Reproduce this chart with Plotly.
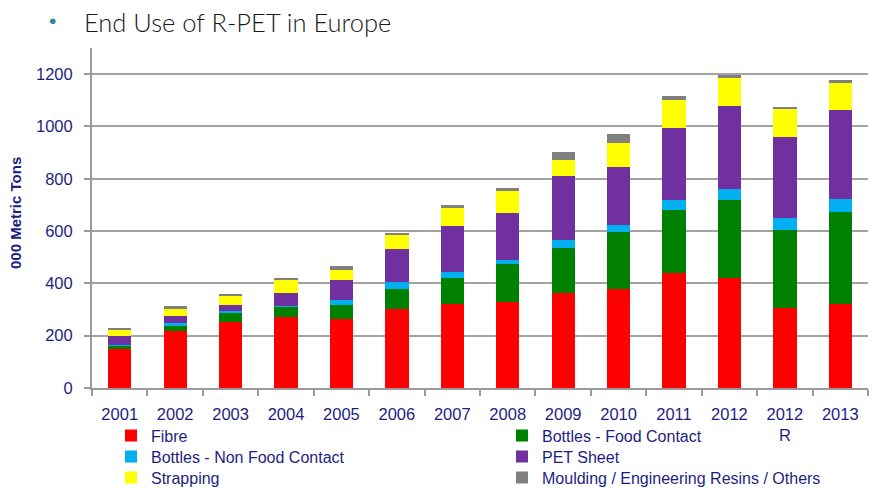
import plotly.graph_objects as go

categories = ["2001", "2002", "2003", "2004", "2005", "2006", "2007", "2008",
              "2009", "2010", "2011", "2012", "2012<br>R", "2013"]
fibre = [148, 219, 254, 271, 264, 302, 322, 328, 365, 377, 438, 421, 307, 323]
bottles_food = [13, 21, 35, 40, 55, 78, 99, 148, 169, 219, 243, 297, 297, 351]
bottles_nonfood = [5, 7, 7, 2, 19, 25, 23, 14, 30, 26, 38, 44, 46, 49]
pet_sheet = [33, 30, 23, 51, 75, 127, 174, 178, 247, 222, 276, 315, 310, 340]
strapping = [25, 25, 32, 49, 38, 54, 70, 87, 62, 93, 106, 107, 110, 106]
others = [7, 10, 8, 6, 14, 8, 13, 10, 28, 34, 16, 13, 4, 7]

series_names = ["Fibre", "Bottles - Food Contact", "Bottles - Non Food Contact",
                "PET Sheet", "Strapping", "Moulding / Engineering Resins / Others"]
series_values = [fibre, bottles_food, bottles_nonfood, pet_sheet, strapping, others]
series_colors = ["#FF0000", "#008000", "#00B0F0", "#7030A0", "#FFFF00", "#808080"]

W, H = 878, 488
L, R, T, B = 92, 10, 48, 100
PW, PH = W - L - R, H - T - B
navy = "#1E1E82"


def px_x(p):
    return (p - L) / PW


def px_y(p):
    return 1 - (p - T) / PH


# legend grid: two columns, three rows, filled row by row
legend_text_x = [151, 542]
legend_row_y = [435.5, 456.5, 477.5]

fig = go.Figure()
legend_layouts = {}
for i, (name, vals, col) in enumerate(zip(series_names, series_values, series_colors)):
    lg = "legend" if i == 0 else f"legend{i + 1}"
    fig.add_trace(go.Bar(x=categories, y=vals, name=name, legend=lg, showlegend=True,
                         marker=dict(color=col, line=dict(width=0))))
    colx = legend_text_x[i % 2] - 40
    rowy = legend_row_y[i // 2]
    legend_layouts[lg] = dict(x=px_x(colx), y=px_y(rowy), xanchor="left", yanchor="middle",
                              orientation="v", bgcolor="rgba(0,0,0,0)", borderwidth=0,
                              font=dict(size=16, color=navy,
                                        family="Liberation Sans, Arial, sans-serif"))

fig.update_layout(
    showlegend=True,
    barmode="stack",
    bargap=0.58,
    width=W, height=H,
    margin=dict(l=L, r=R, t=T, b=B, autoexpand=False),
    plot_bgcolor="white", paper_bgcolor="white",
    font=dict(family="Liberation Sans, Arial, sans-serif", color=navy, size=16),
    xaxis=dict(type="category", tickson="boundaries", ticks="outside", ticklen=6,
               tickcolor="#9a9a9a", tickwidth=1.5, showline=True, linecolor="#9a9a9a",
               linewidth=2, showgrid=False, tickfont=dict(size=16.5, color=navy),
               ticklabelstandoff=10, automargin=False),
    yaxis=dict(range=[0, 1300], dtick=200, tick0=0, ticks="outside", ticklen=6,
               tickcolor="#9a9a9a", tickwidth=1.5, showline=True, linecolor="#9a9a9a",
               linewidth=2, showgrid=True, gridcolor="#a3a3a3", gridwidth=1.5,
               zeroline=False, tickfont=dict(size=16.5, color=navy),
               ticklabelstandoff=8, automargin=False),
    annotations=[
        dict(text="•", x=px_x(52.5), y=px_y(20.5), xref="paper", yref="paper",
             showarrow=False, font=dict(size=21, color="#31859C"),
             xanchor="center", yanchor="middle"),
        dict(text="End Use of R-PET in Europe", x=px_x(82), y=px_y(22),
             xref="paper", yref="paper", showarrow=False,
             font=dict(family="Lato, sans-serif", size=25.5, color="#1a1a1a", weight=300),
             xanchor="left", yanchor="middle"),
        dict(text="<b>000 Metric Tons</b>", x=px_x(15), y=px_y(213),
             xref="paper", yref="paper", showarrow=False, textangle=-90,
             font=dict(family="Liberation Sans Narrow, Liberation Sans, Arial", size=15,
                       color=navy),
             xanchor="center", yanchor="middle"),
    ],
    **legend_layouts,
)

fig.write_html("out.html", config={"displayModeBar": False},
               post_script="document.body.style.margin='0';document.body.style.overflow='hidden';")
